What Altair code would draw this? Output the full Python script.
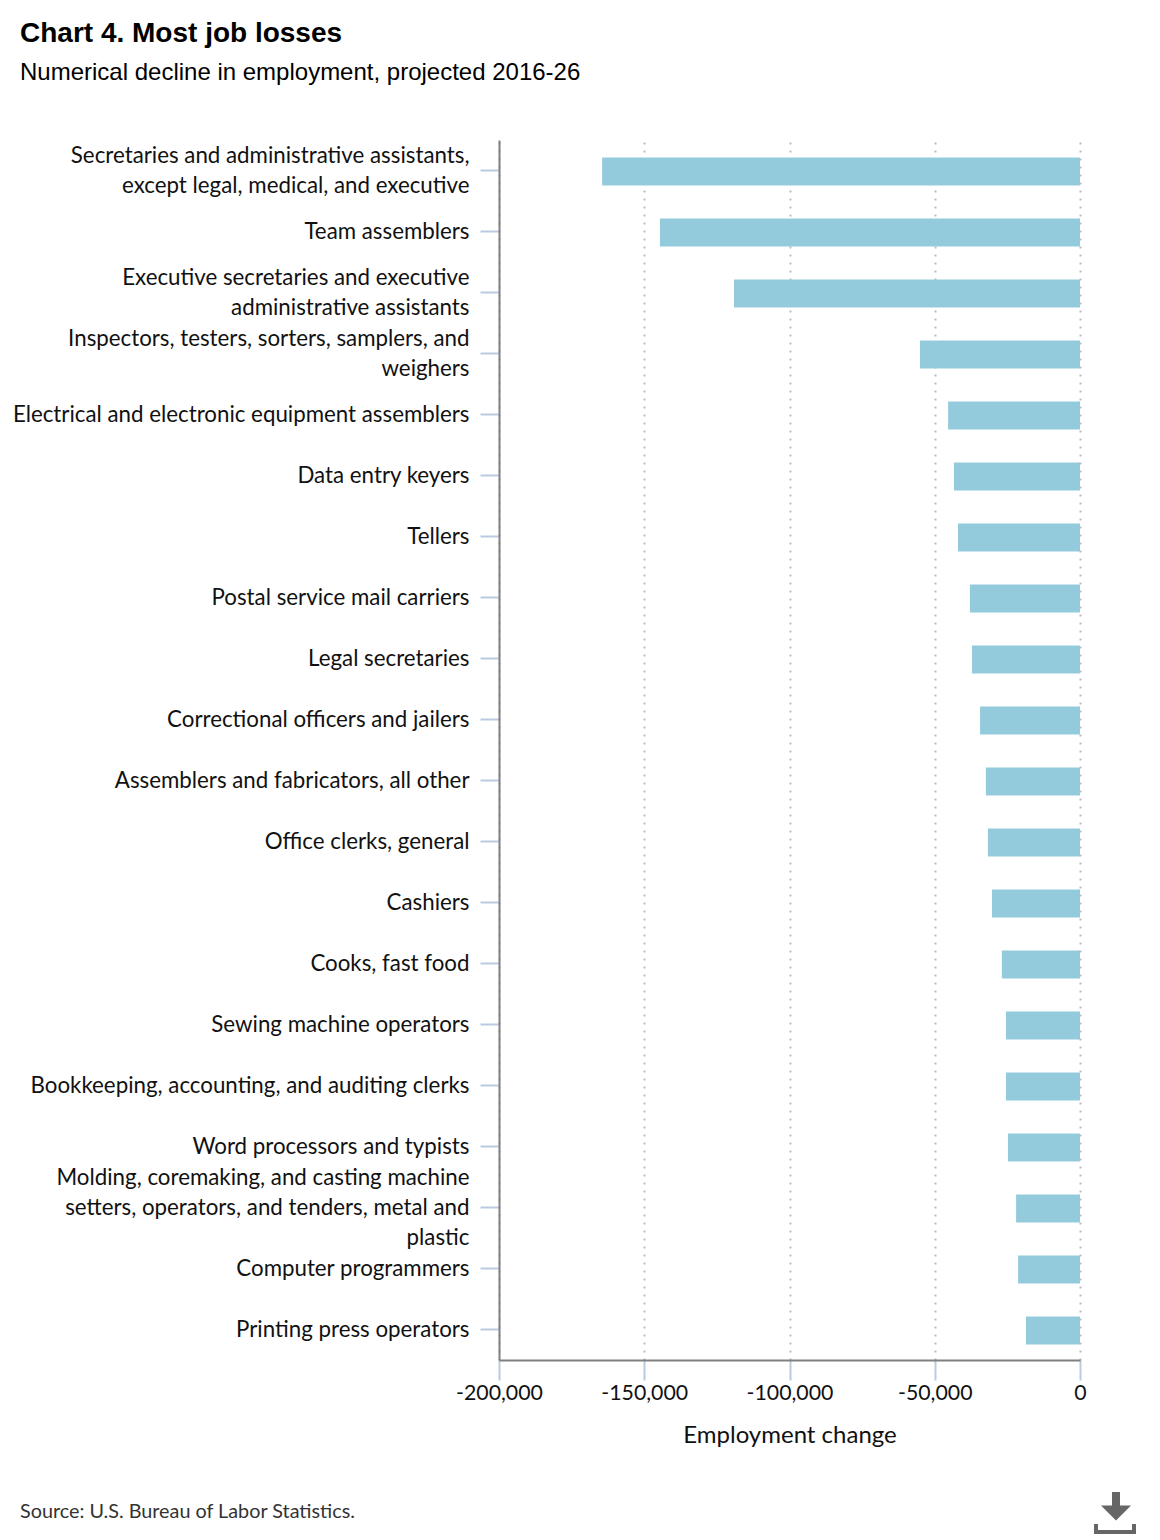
import altair as alt
import pandas as pd

categories = [
    "Secretaries and administrative assistants,|except legal, medical, and executive",
    "Team assemblers",
    "Executive secretaries and executive|administrative assistants",
    "Inspectors, testers, sorters, samplers, and|weighers",
    "Electrical and electronic equipment assemblers",
    "Data entry keyers",
    "Tellers",
    "Postal service mail carriers",
    "Legal secretaries",
    "Correctional officers and jailers",
    "Assemblers and fabricators, all other",
    "Office clerks, general",
    "Cashiers",
    "Cooks, fast food",
    "Sewing machine operators",
    "Bookkeeping, accounting, and auditing clerks",
    "Word processors and typists",
    "Molding, coremaking, and casting machine|setters, operators, and tenders, metal and|plastic",
    "Computer programmers",
    "Printing press operators",
]
values = [-164500, -144600, -119100, -55100, -45400, -43400, -42000, -37900, -37200,
          -34400, -32400, -31700, -30300, -26900, -25500, -25500, -24800, -22000, -21300, -18600]
x_ticks = [-200000, -150000, -100000, -50000, 0]
title_text = "Chart 4. Most job losses"
subtitle_text = "Numerical decline in employment, projected 2016-26"
source_text = "Source: U.S. Bureau of Labor Statistics."

df = pd.DataFrame({"occupation": categories, "change": values})
rows = []
for cat in categories:
    parts = cat.split("|")
    for i, part in enumerate(parts):
        rows.append({"occupation": cat, "line": part, "off": 30 * i - 15 * (len(parts) - 1)})
labels_df = pd.DataFrame(rows)

FONT = "Lato"
INK = "#111111"
one = alt.Data(values=[{"a": 1}])

y_enc = alt.Y("occupation:N", sort=categories, title=None,
              scale=alt.Scale(paddingInner=0, paddingOuter=0),
              axis=alt.Axis(labels=False, grid=False,
                            domainColor="#808080", domainWidth=2,
                            tickColor="#b9cbe0", tickSize=19, tickWidth=2))

bars = alt.Chart(df).mark_bar(size=28, color="#93cbdc", yOffset=1).encode(
    x=alt.X("change:Q",
            scale=alt.Scale(domain=[-200000, 0], nice=False, zero=False),
            axis=alt.Axis(values=x_ticks, title="Employment change",
                          labelExpr="replace(format(datum.value, ',.0f'), '\u2212', '-')",
                          grid=True, gridColor="#bbbbbb", gridDash=[2, 6], gridWidth=2,
                          domainColor="#808080", domainWidth=2,
                          tickColor="#b9cbe0", tickSize=20, tickWidth=2,
                          labelFont=FONT, labelFontSize=21.3, labelColor=INK,
                          labelPadding=2, labelFlush=False, labelOverlap=False,
                          titleFont=FONT, titleFontSize=24, titleFontWeight="normal",
                          titleColor=INK, titlePadding=20)),
    y=y_enc,
)

y_labels = alt.Chart(labels_df).mark_text(align="right", baseline="middle", font=FONT,
                                          fontSize=22.3, color=INK, dy=31).encode(
    x=alt.value(-29.5),
    y=alt.Y("occupation:N", sort=categories),
    yOffset=alt.YOffset("off:Q", scale=None),
    text="line:N",
)


def note(text, x, y, size, font="Liberation Sans", weight="normal", color="#000000"):
    return alt.Chart(one).mark_text(align="left", baseline="alphabetic", font=font,
                                    fontSize=size, fontWeight=weight, color=color,
                                    text=text).encode(x=alt.value(x), y=alt.value(y))


def rule(x, x2, y, y2, width):
    return alt.Chart(one).mark_rule(color="#666666", strokeWidth=width).encode(
        x=alt.value(x), x2=alt.value(x2), y=alt.value(y), y2=alt.value(y2))


title = note(title_text, -479, -98, 28, weight="bold")
subtitle = note(subtitle_text, -479, -60, 24)
source = note(source_text, -479, 1378, 19.8, font=FONT, color="#333333")

shaft = rule(617, 617, 1352, 1366, 8)
head = alt.Chart(one).mark_point(shape="M-1,-0.5L1,-0.5L0,0.5Z", filled=True, color="#666666",
                                 opacity=1, size=900).encode(
    x=alt.value(617), y=alt.value(1373))
base = rule(595, 637, 1392, 1392, 4)
left = rule(597, 597, 1384, 1394, 4)
right = rule(635, 635, 1384, 1394, 4)

chart = alt.layer(bars, y_labels, title, subtitle, source, shaft, head, base, left, right).properties(
    width=581, height=1220,
    autosize=alt.AutoSizeParams(type="none"),
    padding={"left": 491, "top": 132, "right": 70, "bottom": 176},
).configure_view(stroke=None)

chart.save("out.html", embed_options={"renderer": "svg", "actions": False})
